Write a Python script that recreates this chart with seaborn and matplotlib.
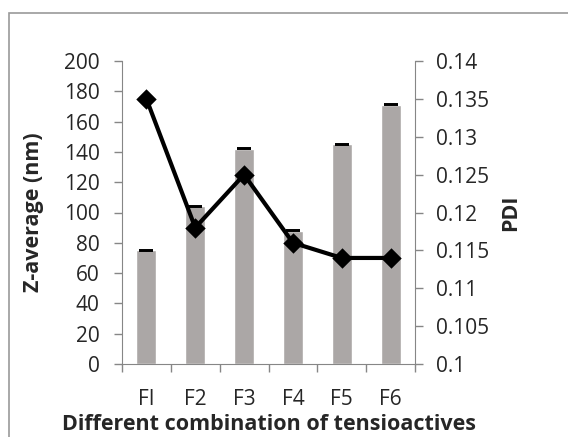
import numpy as np
import pandas as pd
import matplotlib
matplotlib.use("Agg")
import matplotlib.pyplot as plt
import seaborn as sns
from matplotlib.patches import Rectangle

# datos
formulas = ["FI", "F2", "F3", "F4", "F5", "F6"]
z_average = [75, 104, 142, 88, 145, 171]
z_err = [0.3, 0.3, 0.3, 0.3, 0.3, 0.3]
pdi = [0.135, 0.118, 0.125, 0.116, 0.114, 0.114]

df = pd.DataFrame({"formula": formulas, "z": z_average, "pdi": pdi})

sns.set_style("white")
plt.rcParams["font.family"] = ["Open Sans", "DejaVu Sans"]

fig = plt.figure(figsize=(5.68, 4.37), dpi=100)
# marco gris alrededor del grafico
fig.patches.append(Rectangle((9 / 568, -0.1), 1.2, (437 - 13) / 437 + 0.1,
                             transform=fig.transFigure, fill=False,
                             edgecolor="#9a9a9a", linewidth=1.2))

ax = fig.add_axes([122 / 568, 1 - 364 / 437, (415 - 122) / 568, (364 - 61) / 437])
sns.barplot(data=df, x="formula", y="z", color="#aba7a6", saturation=1,
            width=0.41, ax=ax)
ax.errorbar(np.arange(len(formulas)), z_average, yerr=z_err, fmt="none",
            ecolor="black", capsize=5, capthick=1.4, elinewidth=0.8)
ax.set_ylim(0, 200)
ax.set_yticks(range(0, 201, 20))
ax.set_xlim(-0.5, 5.5)
ax.set_xticks(np.arange(-0.5, 6, 1), minor=False)
ax.set_xticklabels([""] * 7)
ax.set_xticks(np.arange(6), minor=True)
ax.set_xticklabels(formulas, minor=True)
ax.tick_params(axis="x", which="major", direction="out", length=6, width=1,
               color="#868686", bottom=True)
ax.tick_params(axis="x", which="minor", length=0, pad=18, labelsize=15)
ax.tick_params(axis="y", direction="out", length=6, width=1, color="#868686",
               left=True, labelsize=15, pad=10)
ax.set_xlabel("Different combination of tensioactives", fontsize=15.5,
              fontweight="bold", labelpad=3)
ax.set_ylabel("Z-average (nm)", fontsize=15.5, fontweight="bold", labelpad=14)
for s in ["top", "right"]:
    ax.spines[s].set_visible(False)
for s in ["left", "bottom"]:
    ax.spines[s].set_color("#868686")

ax2 = ax.twinx()
sns.pointplot(data=df, x="formula", y="pdi", color="black", markers="D",
              markersize=8, linewidth=3, ax=ax2)
ax2.set_xlim(-0.5, 5.5)
ax2.set_ylim(0.1, 0.14)
ax2.set_yticks([0.1, 0.105, 0.11, 0.115, 0.12, 0.125, 0.13, 0.135, 0.14])
ax2.set_yticklabels(["0.1", "0.105", "0.11", "0.115", "0.12", "0.125",
                     "0.13", "0.135", "0.14"])
ax2.tick_params(axis="y", direction="out", length=6, width=1, color="#868686",
                right=True, labelsize=15, pad=9)
ax2.set_ylabel("PDI", fontsize=15.5, fontweight="bold", labelpad=8)
ax2.set_xlabel("")
for s in ["top", "left", "bottom"]:
    ax2.spines[s].set_visible(False)
ax2.spines["right"].set_color("#868686")

fig.savefig("out.png", dpi=100)
